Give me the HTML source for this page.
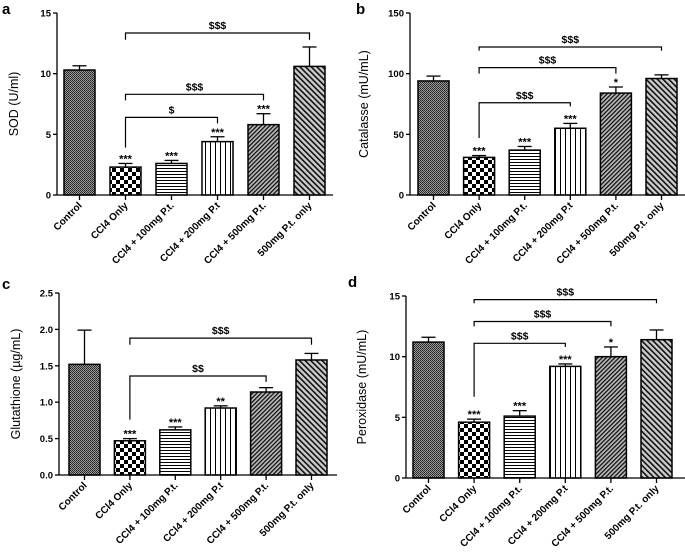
<!DOCTYPE html>
<html><head><meta charset="utf-8">
<style>
html,body{margin:0;padding:0;background:#fff;}
svg{display:block;font-family:"Liberation Sans",Arial,sans-serif;}
</style></head>
<body>
<svg id="chart" width="685" height="553" viewBox="0 0 685 553" xmlns="http://www.w3.org/2000/svg">
<defs>
<pattern id="p0" width="2" height="2" patternUnits="userSpaceOnUse"><rect width="2" height="2" fill="#9a9a9a"/><rect width="1" height="1" fill="#222"/><rect x="1" y="1" width="1" height="1" fill="#333"/></pattern>
<pattern id="p1" width="8" height="8" patternUnits="userSpaceOnUse"><rect width="8" height="8" fill="#fff"/><rect width="4" height="4" fill="#000"/><rect x="4" y="4" width="4" height="4" fill="#000"/></pattern>
<pattern id="p2" width="4" height="3" patternUnits="userSpaceOnUse"><rect width="4" height="3" fill="#fff"/><rect y="0" width="4" height="1" fill="#000"/></pattern>
<pattern id="p3" width="5" height="4" patternUnits="userSpaceOnUse"><rect width="5" height="4" fill="#fff"/><rect x="0" width="1" height="4" fill="#000"/></pattern>
<pattern id="p4" width="3" height="3" patternUnits="userSpaceOnUse" patternTransform="rotate(45)"><rect width="3" height="3" fill="#bbb"/><rect width="1.3" height="3" fill="#111"/></pattern>
<pattern id="p5" width="4" height="4" patternUnits="userSpaceOnUse" patternTransform="rotate(-45)"><rect width="4" height="4" fill="#ccc"/><rect width="1.6" height="4" fill="#111"/></pattern>
</defs>
</svg>
<script>
const categories = ["Control","CCl4 Only","CCl4 + 100mg P.t.","CCl4 + 200mg P.t","CCl4 + 500mg P.t.","500mg P.t. only"];
const sodValues = [10.3,2.3,2.6,4.4,5.8,10.6];
const sodErrors = [0.35,0.3,0.25,0.4,0.9,1.6];
const sodStars = ["","***","***","***","***",""];
const catValues = [94,31,37,55,84,96];
const catErrors = [4,1.5,3,4,5,3];
const catStars = ["","***","***","***","*",""];
const gshValues = [1.52,0.47,0.62,0.92,1.14,1.58];
const gshErrors = [0.47,0.03,0.04,0.03,0.06,0.09];
const gshStars = ["","***","***","**","",""];
const perValues = [11.2,4.6,5.1,9.2,10.0,11.4];
const perErrors = [0.4,0.25,0.45,0.2,0.8,0.8];
const perStars = ["","***","***","***","*",""];
const sodTicks = [0,5,10,15];
const catTicks = [0,50,100,150];
const gshTicks = [0,0.5,1,1.5,2,2.5];
const perTicks = [0,5,10,15];
const sodBrackets = [[5,13.35,12.8,12.8,"$$$"],[4,8.3,7.8,7.8,"$$$"],[3,6.4,3.9,5.9,"$"]];
const catBrackets = [[5,122,119,119,"$$$"],[4,105,100,100,"$$$"],[3,76,47,73,"$$$"]];
const gshBrackets = [[5,1.88,1.79,1.79,"$$$"],[4,1.36,0.76,1.28,"$$"]];
const perBrackets = [[5,14.7,14.4,14.4,"$$$"],[4,12.9,12.5,12.5,"$$$"],[3,11.1,6.7,10.8,"$$$"]];

const NS="http://www.w3.org/2000/svg";
const svg=document.getElementById('chart');
function mk(tag,attrs,parent,text){const e=document.createElementNS(NS,tag);for(const k in attrs)e.setAttribute(k,attrs[k]);if(text!==undefined)e.textContent=text;(parent||svg).appendChild(e);return e;}

const panels=[
 {key:"a",title:"SOD (U/ml)",vals:sodValues,errs:sodErrors,stars:sodStars,ticks:sodTicks,br:sodBrackets,ax:57,y0:195,yTop:13,max:15,b0:64,step:46,right:333,dec:0,letterX:2,letterY:14,titleX:18},
 {key:"b",title:"Catalasse (mU/mL)",vals:catValues,errs:catErrors,stars:catStars,ticks:catTicks,br:catBrackets,ax:410,y0:195,yTop:13,max:150,b0:418,step:45.6,right:685,dec:0,letterX:356,letterY:14,titleX:368},
 {key:"c",title:"Glutathione (\u00b5g/mL)",vals:gshValues,errs:gshErrors,stars:gshStars,ticks:gshTicks,br:gshBrackets,ax:59,y0:475,yTop:293,max:2.5,b0:69,step:45.4,right:337,dec:1,letterX:2,letterY:289,titleX:20},
 {key:"d",title:"Peroxidase (mU/mL)",vals:perValues,errs:perErrors,stars:perStars,ticks:perTicks,br:perBrackets,ax:406,y0:478,yTop:296,max:15,b0:413,step:45.6,right:685,dec:0,letterX:348,letterY:287,titleX:366}
];
const BW=31;
panels.forEach(p=>{
  const g=mk('g',{});
  
  
  const y=v=>p.y0-(v/p.max)*(p.y0-p.yTop);
  const cx=i=>p.b0+i*p.step+BW/2;
  const L=mk('text',{x:p.letterX,y:p.letterY,'font-size':15,'font-weight':'bold'},g,p.key);
  
  
  const T=mk('text',{x:p.titleX,y:(p.y0+p.yTop)/2,'font-size':12.5,'text-anchor':'middle',transform:`rotate(-90 ${p.titleX} ${(p.y0+p.yTop)/2})`},g,p.title);
  
  
  p.vals.forEach((v,i)=>{
    const x=p.b0+i*p.step;
    const top=y(v+p.errs[i]);
    const e=mk('g',{},g);
    
    
    mk('line',{x1:cx(i),x2:cx(i),y1:y(v),y2:top,stroke:'#000','stroke-width':1.3},e);
    mk('line',{x1:cx(i)-7,x2:cx(i)+7,y1:top,y2:top,stroke:'#000','stroke-width':1.3},e);
    const r=mk('rect',{x:x,y:y(v),width:BW,height:p.y0-y(v),fill:`url(#p${i})`,stroke:'#000','stroke-width':1.5},g);
    
    
    if(p.stars[i]){
      const s=mk('text',{x:cx(i),y:top+4,'font-size':11,'font-weight':'bold','text-anchor':'middle',dy:'-5'},g,p.stars[i]);
      
      
    }
    mk('line',{x1:cx(i),x2:cx(i),y1:p.y0,y2:p.y0+5,stroke:'#000','stroke-width':1.3},g);
    const lx=cx(i)+3,ly=p.y0+11;
    const c=mk('text',{x:lx,y:ly,'font-size':10,'font-weight':'bold','text-anchor':'end',transform:`rotate(-45 ${lx} ${ly})`},g,categories[i]);
    
    
  });
  const ya=mk('line',{x1:p.ax,x2:p.ax,y1:p.yTop,y2:p.y0,stroke:'#000','stroke-width':1.3},g);
  
  
  const xa=mk('line',{x1:p.ax,x2:p.right,y1:p.y0,y2:p.y0,stroke:'#000','stroke-width':1.3},g);
  
  
  p.ticks.forEach(t=>{
    mk('line',{x1:p.ax-4,x2:p.ax,y1:y(t),y2:y(t),stroke:'#000','stroke-width':1.3},g);
    const tl=mk('text',{x:p.ax-6,y:y(t)+3.5,'font-size':9.5,'font-weight':'bold','text-anchor':'end'},g,t.toFixed(p.dec));
    
    
  });
  p.br.forEach(b=>{
    const bg=mk('g',{},g);
    
    
    const x1=cx(1),x2=cx(b[0]);
    mk('polyline',{points:`${x1},${y(b[2])} ${x1},${y(b[1])} ${x2},${y(b[1])} ${x2},${y(b[3])}`,fill:'none',stroke:'#000','stroke-width':1.2},bg);
    mk('text',{x:(x1+x2)/2,y:y(b[1])-4,'font-size':10.5,'font-weight':'bold','text-anchor':'middle'},bg,b[4]);
  });
});
</script>
</body></html>
